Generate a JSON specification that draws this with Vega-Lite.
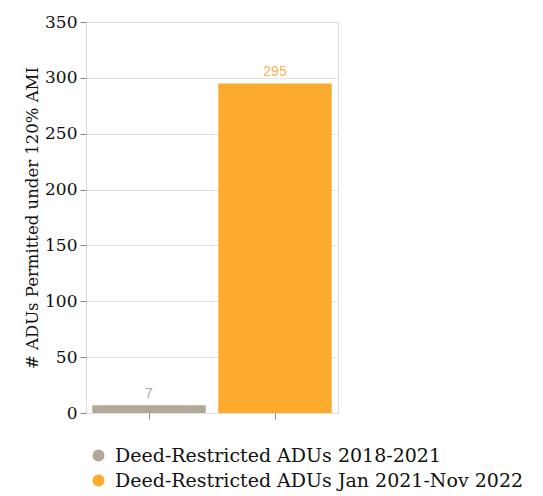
{
  "$schema": "https://vega.github.io/schema/vega-lite/v6.json",
  "autosize": "none",
  "width": 252,
  "height": 391,
  "padding": {"left": 86, "top": 22, "right": 205, "bottom": 83},
  "background": "white",
  "config": {
    "view": {"stroke": "#dcdcdc", "strokeWidth": 1}
  },
  "data": {
    "values": [
      {"period": "Deed-Restricted ADUs 2018-2021", "count": 7},
      {"period": "Deed-Restricted ADUs Jan 2021-Nov 2022", "count": 295}
    ]
  },
  "encoding": {
    "x": {
      "field": "period",
      "type": "nominal",
      "sort": null,
      "scale": {"paddingInner": 0.1, "paddingOuter": 0.05},
      "axis": {"labels": false, "title": null, "domain": false, "ticks": true, "tickColor": "#888", "tickSize": 6, "grid": false}
    },
    "y": {
      "field": "count",
      "type": "quantitative",
      "scale": {"domain": [0, 350]},
      "axis": {
        "values": [0, 50, 100, 150, 200, 250, 300, 350],
        "title": "# ADUs Permitted under 120% AMI",
        "titleFont": "DejaVu Serif",
        "titleFontSize": 16.5,
        "titleFontWeight": "normal",
        "titleColor": "#111",
        "titlePadding": 4,
        "labelFont": "DejaVu Serif",
        "labelFontSize": 17,
        "labelColor": "#111",
        "labelPadding": 3,
        "tickColor": "#888",
        "tickSize": 6,
        "domain": false,
        "gridColor": "#e2e2e2"
      }
    }
  },
  "layer": [
    {
      "mark": {"type": "bar"},
      "encoding": {
        "color": {
          "field": "period",
          "type": "nominal",
          "sort": null,
          "scale": {"range": ["#b1a898", "#fdab2d"]},
          "legend": {
            "orient": "none",
            "legendX": 3,
            "legendY": 424,
            "title": null,
            "symbolType": "circle",
            "symbolSize": 144,
            "symbolStrokeWidth": 0,
            "labelFont": "DejaVu Serif",
            "labelFontSize": 19,
            "labelColor": "#111",
            "labelOffset": 7,
            "labelLimit": 500,
            "rowPadding": 5,
            "padding": 0
          }
        }
      }
    },
    {
      "mark": {"type": "text", "dy": -11, "font": "Liberation Sans", "fontSize": 14},
      "encoding": {
        "text": {"field": "count", "type": "quantitative"},
        "color": {
          "field": "period",
          "type": "nominal",
          "sort": null,
          "scale": {"range": ["#a9a9a9", "#f4b657"]},
          "legend": null
        }
      }
    }
  ],
  "resolve": {"scale": {"color": "independent"}}
}
